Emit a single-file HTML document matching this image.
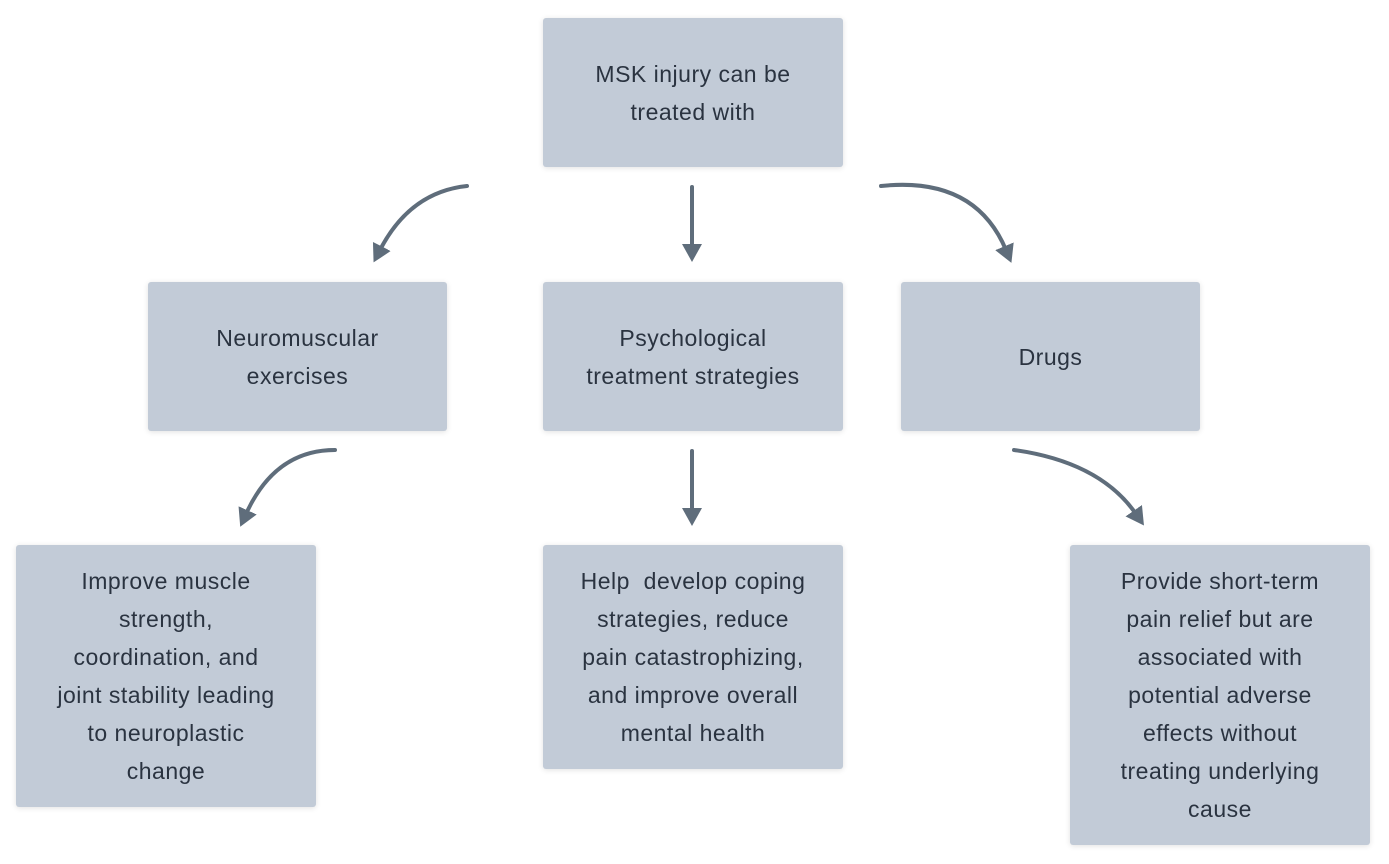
<!DOCTYPE html>
<html><head><style>
body{margin:0;width:1389px;height:864px;background:#fff;position:relative;overflow:hidden;font-family:"Liberation Sans",sans-serif}
.b{position:absolute;background:#c2cbd7;border-radius:3px;box-shadow:0 1px 6px rgba(0,0,0,.12);display:flex;align-items:center;justify-content:center;text-align:center;color:#2a3340;font-size:23px;line-height:38px;letter-spacing:0.5px}
svg{position:absolute;left:0;top:0}
</style></head><body>
<div class="b" style="left:543px;top:18px;width:300px;height:149px">MSK injury can be<br>treated with</div>
<div class="b" style="left:148px;top:282px;width:299px;height:149px">Neuromuscular<br>exercises</div>
<div class="b" style="left:543px;top:282px;width:300px;height:149px">Psychological<br>treatment strategies</div>
<div class="b" style="left:901px;top:282px;width:299px;height:149px">Drugs</div>
<div class="b" style="left:16px;top:545px;width:300px;height:262px">Improve muscle<br>strength,<br>coordination, and<br>joint stability leading<br>to neuroplastic<br>change</div>
<div class="b" style="left:543px;top:545px;width:300px;height:224px">Help&nbsp; develop coping<br>strategies, reduce<br>pain catastrophizing,<br>and improve overall<br>mental health</div>
<div class="b" style="left:1070px;top:545px;width:300px;height:300px">Provide short-term<br>pain relief but are<br>associated with<br>potential adverse<br>effects without<br>treating underlying<br>cause</div>
<svg width="1389" height="864">
<defs><marker id="a" markerWidth="5" markerHeight="5" refX="1" refY="2.5" orient="auto" markerUnits="strokeWidth"><path d="M0,0L4.5,2.5L0,5z" fill="#5f6d7b"/></marker></defs>
<g stroke="#5f6d7b" stroke-width="4" fill="none" stroke-linecap="round" marker-end="url(#a)">
<path d="M467,186 Q410,192 380,250"/>
<path d="M692,187 L692,248"/>
<path d="M881,186 Q975,176 1006,250"/>
<path d="M335,450 Q275,450 246,514"/>
<path d="M692,451 L692,512"/>
<path d="M1014,450 Q1100,462 1136,514"/>
</g></svg>
</body></html>
